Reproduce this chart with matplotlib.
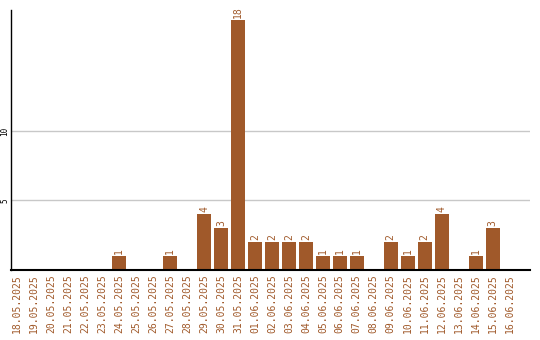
import matplotlib

matplotlib.use("Agg")
import matplotlib.pyplot as plt

dates = [
    "18.05.2025", "19.05.2025", "20.05.2025", "21.05.2025", "22.05.2025",
    "23.05.2025", "24.05.2025", "25.05.2025", "26.05.2025", "27.05.2025",
    "28.05.2025", "29.05.2025", "30.05.2025", "31.05.2025", "01.06.2025",
    "02.06.2025", "03.06.2025", "04.06.2025", "05.06.2025", "06.06.2025",
    "07.06.2025", "08.06.2025", "09.06.2025", "10.06.2025", "11.06.2025",
    "12.06.2025", "13.06.2025", "14.06.2025", "15.06.2025", "16.06.2025",
]
counts = [0, 0, 0, 0, 0, 0, 1, 0, 0, 1,
          0, 4, 3, 18, 2, 2, 2, 2, 1, 1,
          1, 0, 2, 1, 2, 4, 0, 1, 3, 0]
yticks = [5, 10]

BROWN = "#a0592a"
MONO = "DejaVu Sans Mono"

fig = plt.figure(figsize=(5.4, 3.4), dpi=100)
ax = fig.add_axes([10.5 / 540, 70 / 340, 519.5 / 540, 260 / 340])

x = list(range(len(dates)))
ax.bar(x, counts, width=0.82, color=BROWN, zorder=2)
for xi, c in zip(x, counts):
    if c > 0:
        ax.text(xi, c + 0.15, str(c), rotation=90, ha="center", va="bottom",
                color=BROWN, fontsize=7, family=MONO)

ax.set_xlim(-0.4, 30.2)
ax.set_ylim(0, 18.7)
ax.set_xticks(x)
ax.set_xticklabels(dates, rotation=90, color=BROWN, fontsize=7, family=MONO)
ax.set_yticks(yticks)
ax.set_yticklabels([str(t) for t in yticks], rotation=90, fontsize=5.5,
                   family=MONO, va="center")
ax.tick_params(length=0, pad=3)
ax.tick_params(axis="y", pad=1)
ax.grid(axis="y", color="#c8c8c8", linewidth=1, zorder=0)
for s in ("top", "right"):
    ax.spines[s].set_visible(False)
ax.spines["left"].set_linewidth(1)
ax.spines["bottom"].set_linewidth(1.5)

fig.savefig("out.png", dpi=100)
